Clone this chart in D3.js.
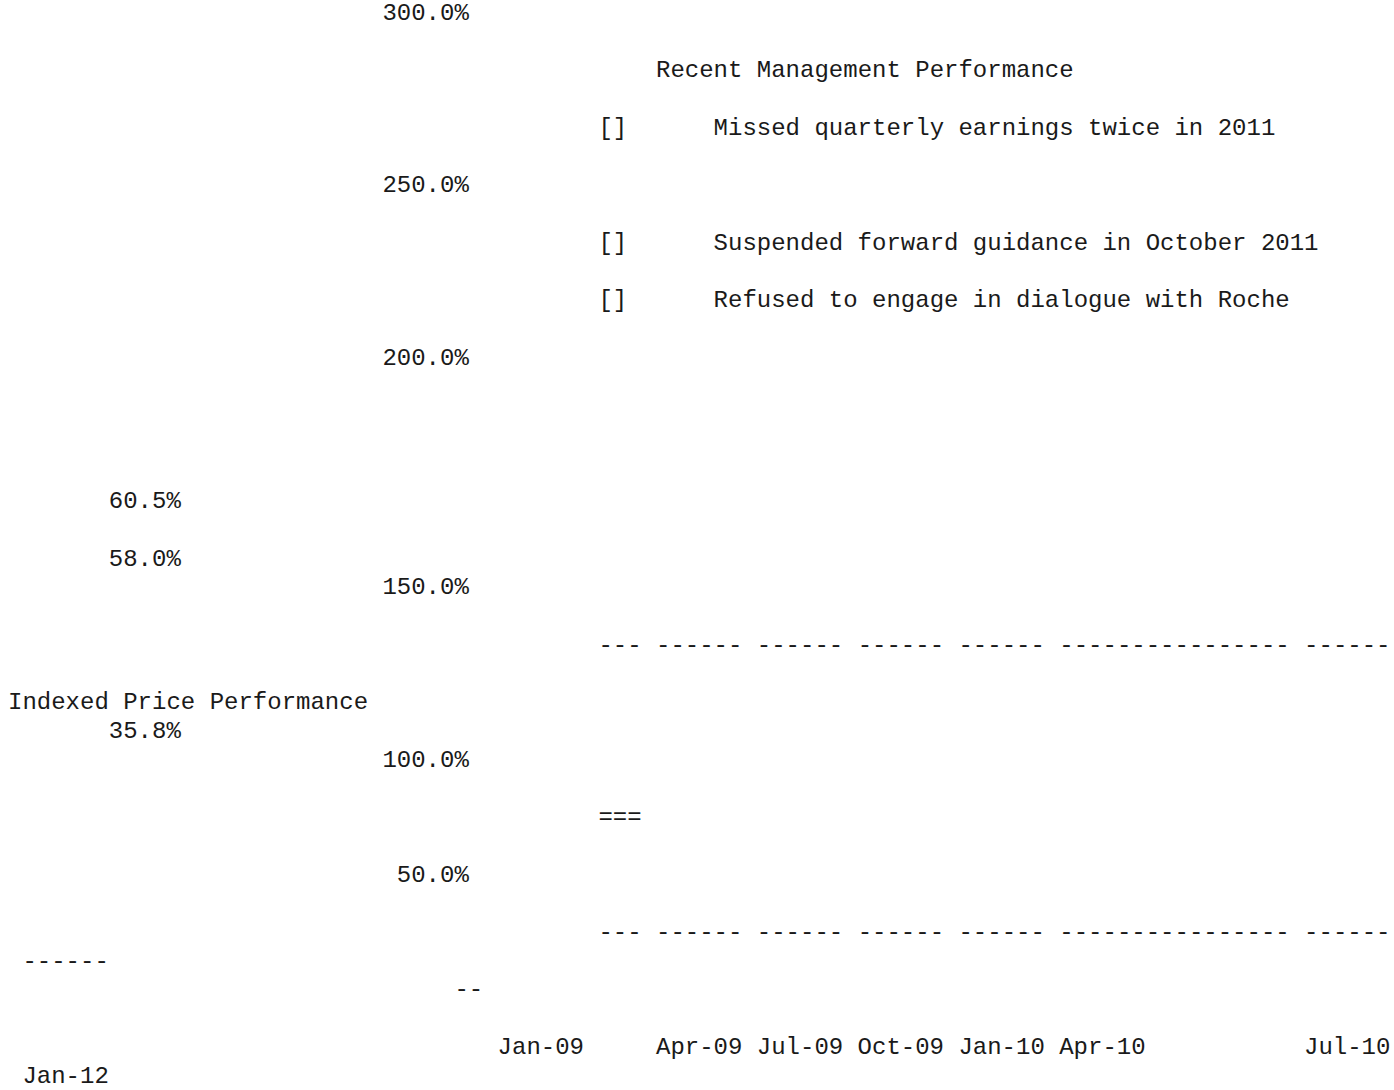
<!DOCTYPE html>
<html>
<head>
<meta charset="utf-8">
<script src="https://cdn.jsdelivr.net/npm/d3@7/dist/d3.min.js"></script>
<style>
  body { margin: 0; background: #fff; overflow: hidden; }
  text { font-family: "Liberation Mono", "Courier New", monospace; font-size: 24px; fill: #1a1a1a; }
</style>
</head>
<body>
<div id="chart"></div>
<script>
// Chart data
var yTickValues = [300, 250, 200, 150, 100, 50];
var xTickLabels = ["Jan-09", "Apr-09", "Jul-09", "Oct-09", "Jan-10", "Apr-10", "Jul-10"];
var lastDateLabel = "Jan-12";
var endValues = [60.5, 58.0, 35.8];
var axisTitle = "Indexed Price Performance";
var legendTitle = "Recent Management Performance";
var legendItems = [
    "Missed quarterly earnings twice in 2011",
    "Suspended forward guidance in October 2011",
    "Refused to engage in dialogue with Roche"
];
var legendMarker = "[]";
var gridLine = "--- ------ ------ ------ ------ ---------------- ------";
var strayMarks = ["===", "------", "--"];

// Basic size information
var width = 1394,
    height = 1090,
    charW = 14.4,
    lineH = 28.72,
    fmt = function (v) { return d3.format(".1f")(v) + "%"; };

// Text grid: columns and rows of the monospace layout
var col = d3.scaleLinear().domain([0, 1]).range([8, 8 + charW]);
var row = d3.scaleLinear().domain([0, 1]).range([20, 20 + lineH]);

// Rows the y ticks fell on
var tickRow = d3.scaleOrdinal().domain(yTickValues).range([0, 6, 12, 20, 26, 30]);
// Columns the x ticks fell on
var tickCol = d3.scaleOrdinal().domain(xTickLabels).range([34, 45, 52, 59, 66, 73, 90]);

var svg = d3.select("#chart")
    .append("svg")
        .attr("width", width)
        .attr("height", height);

function put(g, str, c, r, anchor) {
    return g.append("text")
        .attr("x", col(c))
        .attr("y", row(r))
        .attr("text-anchor", anchor || "start")
        .attr("xml:space", "preserve")
        .text(str);
}

// Y axis ticks (right aligned)
var yAxis = svg.append("g").attr("class", "y-axis");
yAxis.selectAll("text")
    .data(yTickValues)
    .enter().append("text")
        .attr("x", col(32))
        .attr("y", function (d) { return row(tickRow(d)); })
        .attr("text-anchor", "end")
        .text(fmt);

// X axis ticks
var xAxis = svg.append("g").attr("class", "x-axis");
xAxis.selectAll("text")
    .data(xTickLabels)
    .enter().append("text")
        .attr("x", function (d) { return col(tickCol(d)); })
        .attr("y", row(36))
        .text(function (d) { return d; });
put(xAxis, lastDateLabel, 1, 37);

// Legend
var legend = svg.append("g").attr("class", "legend");
put(legend, legendTitle, 45, 2);
var legendRows = [4, 8, 10];
legendItems.forEach(function (item, i) {
    put(legend, legendMarker, 41, legendRows[i]);
    put(legend, item, 49, legendRows[i]);
});

// End-of-series value labels
var labels = svg.append("g").attr("class", "values");
var valueRows = [17, 19, 25];
labels.selectAll("text")
    .data(endValues)
    .enter().append("text")
        .attr("x", col(7))
        .attr("y", function (d, i) { return row(valueRows[i]); })
        .text(fmt);

// Axis title
put(svg, axisTitle, 0, 24);

// Grid lines drawn as dashes
var grid = svg.append("g").attr("class", "grid");
put(grid, gridLine, 41, 22);
put(grid, gridLine, 41, 32);

// Leftover series marks
put(grid, strayMarks[0], 41, 28);
put(grid, strayMarks[1], 1, 33);
put(grid, strayMarks[2], 31, 34);
</script>
</body>
</html>
